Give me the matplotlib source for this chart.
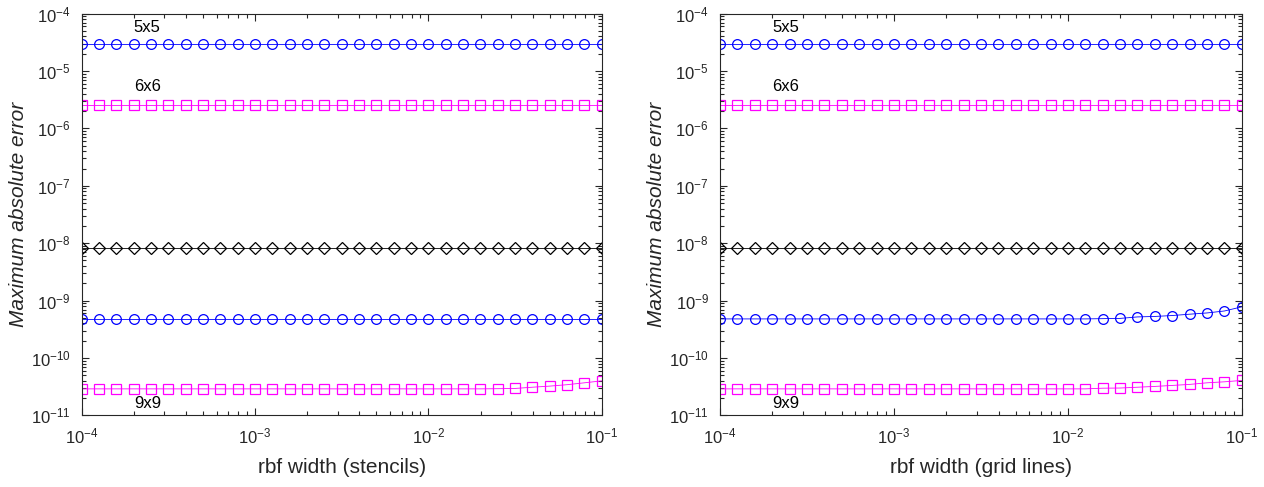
import numpy as np
import matplotlib
matplotlib.use("Agg")
import matplotlib.pyplot as plt
from matplotlib.ticker import LogLocator, LogFormatterMathtext, NullFormatter

plt.rcParams['font.family'] = ['Liberation Sans', 'DejaVu Sans']
plt.rcParams['mathtext.fontset'] = 'custom'
plt.rcParams['mathtext.rm'] = 'Liberation Sans'
plt.rcParams['mathtext.it'] = 'Liberation Sans:italic'
plt.rcParams['axes.unicode_minus'] = False

# rbf widths, 10 per decade
widths = np.logspace(-4, -1, 31)

# left panel: stencils
left_5x5 = [3.0e-5] * 31
left_6x6 = [2.6e-6] * 31
left_diam = [8.1e-9] * 31
left_blue_low = [4.8e-10] * 31
left_mag_low = [2.9e-11] * 24 + [2.92e-11, 2.95e-11, 3.1e-11, 3.24e-11, 3.43e-11, 3.7e-11, 4.0e-11]

# right panel: grid lines
right_5x5 = [3.0e-5] * 31
right_6x6 = [2.6e-6] * 31
right_diam = [8.1e-9] * 31
right_blue_low = [4.8e-10] * 22 + [4.85e-10, 4.9e-10, 5.2e-10, 5.3e-10, 5.5e-10, 5.8e-10, 6.1e-10, 6.6e-10, 7.8e-10]
right_mag_low = [2.9e-11] * 22 + [2.98e-11, 3.0e-11, 3.1e-11, 3.2e-11, 3.33e-11, 3.47e-11, 3.7e-11, 3.85e-11, 4.07e-11]

xlabels = ['rbf width (stencils)', 'rbf width (grid lines)']
panels = [
    [left_5x5, left_6x6, left_diam, left_blue_low, left_mag_low],
    [right_5x5, right_6x6, right_diam, right_blue_low, right_mag_low],
]
styles = [('#0000ff', 'o'), ('#ff00ff', 's'), ('black', 'D'), ('#0000ff', 'o'), ('#ff00ff', 's')]
msizes = [7, 6.8, 6.3, 7, 6.8]

fig = plt.figure(figsize=(12.64, 4.87), dpi=100)
axes = [fig.add_axes([0.0646, 0.147, 0.4115, 0.825]),
        fig.add_axes([0.5696, 0.147, 0.4129, 0.825])]

axcol = '#262626'
for ax, series, xl in zip(axes, panels, xlabels):
    for vals, (c, m), ms in zip(series, styles, msizes):
        ax.plot(widths, vals, color=c, marker=m, markersize=ms,
                markerfacecolor='none', markeredgewidth=0.9, linewidth=0.6)
    ax.set_xscale('log')
    ax.set_yscale('log')
    ax.set_xlim(1e-4, 1e-1)
    ax.set_ylim(1e-11, 1e-4)
    ax.xaxis.set_major_locator(LogLocator(base=10, numticks=10))
    ax.yaxis.set_major_locator(LogLocator(base=10, numticks=10))
    ax.xaxis.set_minor_locator(LogLocator(base=10, subs=np.arange(2, 10), numticks=20))
    ax.yaxis.set_minor_locator(LogLocator(base=10, subs=np.arange(2, 10), numticks=20))
    ax.xaxis.set_major_formatter(LogFormatterMathtext())
    ax.yaxis.set_major_formatter(LogFormatterMathtext())
    ax.xaxis.set_minor_formatter(NullFormatter())
    ax.yaxis.set_minor_formatter(NullFormatter())
    ax.tick_params(which='both', direction='in', top=True, right=True,
                   labelsize=12, colors=axcol, width=0.8)
    ax.tick_params(which='major', length=5, pad=8)
    ax.tick_params(which='minor', length=3)
    for s in ax.spines.values():
        s.set_color(axcol)
        s.set_linewidth(0.8)
    ax.set_xlabel(xl, fontsize=15, color=axcol, labelpad=8)
    ax.set_ylabel('Maximum absolute error', fontsize=15, style='italic', color=axcol, labelpad=2)
    ax.text(2e-4, 5.8e-5, '5x5', fontsize=12, va='center')
    ax.text(2e-4, 5.4e-6, '6x6', fontsize=12, va='center')
    ax.text(2e-4, 1.6e-11, '9x9', fontsize=12, va='center')

fig.savefig('out.png', dpi=100)
